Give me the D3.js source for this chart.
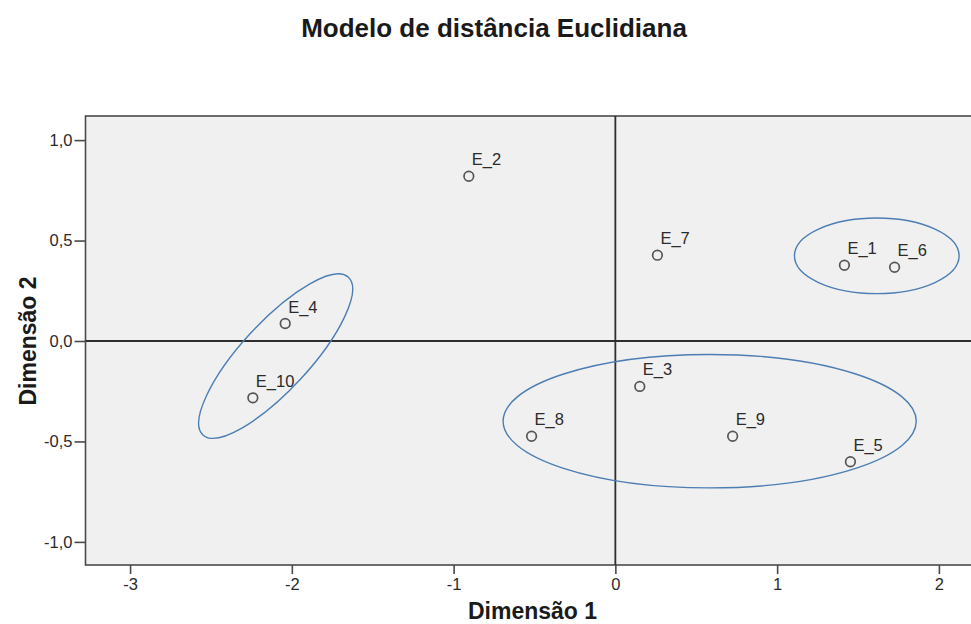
<!DOCTYPE html>
<html>
<head>
<meta charset="utf-8">
<script src="https://cdn.jsdelivr.net/npm/d3@7"></script>
<style>
  html, body { margin: 0; padding: 0; background: #ffffff; }
  svg { display: block; }
  text { font-family: "Liberation Sans", Arial, sans-serif; fill: #2b2b2b; }
</style>
</head>
<body>
<svg id="chart" width="971" height="624"></svg>
<script>
// Stimulus labels and their coordinates on the two MDS dimensions
const stimuli = ["E_1", "E_2", "E_3", "E_4", "E_5", "E_6", "E_7", "E_8", "E_9", "E_10"];
const dim1 = [1.416, -0.906, 0.151, -2.041, 1.453, 1.726, 0.260, -0.518, 0.725, -2.241];
const dim2 = [0.377, 0.820, -0.226, 0.087, -0.601, 0.367, 0.427, -0.474, -0.474, -0.283];

// Tick values and their printed labels (comma decimals)
const xTicks = [-3, -2, -1, 0, 1, 2];
const xTickLabels = ["-3", "-2", "-1", "0", "1", "2"];
const yTicks = [1.0, 0.5, 0.0, -0.5, -1.0];
const yTickLabels = ["1,0", "0,5", "0,0", "-0,5", "-1,0"];

// Group outlines: centre in data units, semi-axes in axis units, rotation in degrees
const groupCx = [1.616, 0.583, -2.100];
const groupCy = [0.424, -0.399, -0.075];
const groupRx = [0.509, 1.277, 0.663];
const groupRy = [0.188, 0.332, 0.169];
const groupRot = [0, 0, -47.3];

const svg = d3.select("#chart");

const plot = { left: 85.5, top: 116, right: 985, bottom: 565 };

const x = d3.scaleLinear().domain([-3.2755, 2.285]).range([plot.left, plot.right]);
const y = d3.scaleLinear().domain([1.12, -1.115]).range([plot.top, plot.bottom]);

// Plot background
svg.append("rect")
  .attr("x", plot.left).attr("y", plot.top)
  .attr("width", plot.right - plot.left).attr("height", plot.bottom - plot.top)
  .attr("fill", "#f0f0f0")
  .attr("stroke", "#4a4a4a").attr("stroke-width", 1.6);

// Reference lines through the origin
svg.append("line")
  .attr("x1", x(0)).attr("x2", x(0))
  .attr("y1", plot.top).attr("y2", plot.bottom)
  .attr("stroke", "#2e2e2e").attr("stroke-width", 1.8);
svg.append("line")
  .attr("x1", plot.left).attr("x2", plot.right)
  .attr("y1", y(0)).attr("y2", y(0))
  .attr("stroke", "#2e2e2e").attr("stroke-width", 1.8);

// Axes
const xAxis = d3.axisBottom(x)
  .tickValues(xTicks)
  .tickFormat((d, i) => xTickLabels[i])
  .tickSize(9).tickSizeOuter(0).tickPadding(4);
const gx = svg.append("g").attr("transform", `translate(0,${plot.bottom})`).call(xAxis);
gx.select(".domain").remove();
gx.selectAll(".tick line").attr("stroke", "#4a4a4a").attr("stroke-width", 1.6);
gx.selectAll(".tick text").attr("font-size", 16.5).style("fill", "#2b2b2b")
  .attr("font-family", "Liberation Sans, Arial, sans-serif");

const yAxis = d3.axisLeft(y)
  .tickValues(yTicks)
  .tickFormat((d, i) => yTickLabels[i])
  .tickSize(11).tickSizeOuter(0).tickPadding(2);
const gy = svg.append("g").attr("transform", `translate(${plot.left},0)`).call(yAxis);
gy.select(".domain").remove();
gy.selectAll(".tick line").attr("stroke", "#4a4a4a").attr("stroke-width", 1.6);
gy.selectAll(".tick text").attr("font-size", 16.5).style("fill", "#2b2b2b")
  .attr("font-family", "Liberation Sans, Arial, sans-serif");

// Group ellipses
const kx = x(1) - x(0);
const ky = y(0) - y(1);
svg.append("g").selectAll("ellipse")
  .data(groupCx.map((cx, i) => ({ cx, cy: groupCy[i], rx: groupRx[i], ry: groupRy[i], rot: groupRot[i] })))
  .join("ellipse")
  .attr("transform", d => `translate(${x(d.cx)},${y(d.cy)}) rotate(${d.rot})`)
  .attr("rx", d => d.rx * kx)
  .attr("ry", d => d.ry * ky)
  .attr("fill", "none")
  .attr("stroke", "#4c7db3")
  .attr("stroke-width", 1.4);

// Stimulus points and labels
const pts = stimuli.map((name, i) => ({ name, d1: dim1[i], d2: dim2[i] }));
const gp = svg.append("g");
gp.selectAll("circle")
  .data(pts)
  .join("circle")
  .attr("cx", d => x(d.d1))
  .attr("cy", d => y(d.d2))
  .attr("r", 4.8)
  .attr("fill", "none")
  .attr("stroke", "#555555")
  .attr("stroke-width", 1.7);
gp.selectAll("text")
  .data(pts)
  .join("text")
  .attr("x", d => x(d.d1) + 3)
  .attr("y", d => y(d.d2) - 11)
  .attr("font-size", 16.5)
  .text(d => d.name);

// Titles
svg.append("text")
  .attr("x", 494).attr("y", 36.5)
  .attr("text-anchor", "middle")
  .attr("font-size", 26).attr("font-weight", "bold")
  .style("fill", "#1a1a1a")
  .text("Modelo de distância Euclidiana");

svg.append("text")
  .attr("x", 532.5).attr("y", 619)
  .attr("text-anchor", "middle")
  .attr("font-size", 23).attr("font-weight", "bold")
  .style("fill", "#1a1a1a")
  .text("Dimensão 1");

svg.append("text")
  .attr("transform", "translate(36,341) rotate(-90)")
  .attr("text-anchor", "middle")
  .attr("font-size", 23).attr("font-weight", "bold")
  .style("fill", "#1a1a1a")
  .text("Dimensão 2");
</script>
</body>
</html>
